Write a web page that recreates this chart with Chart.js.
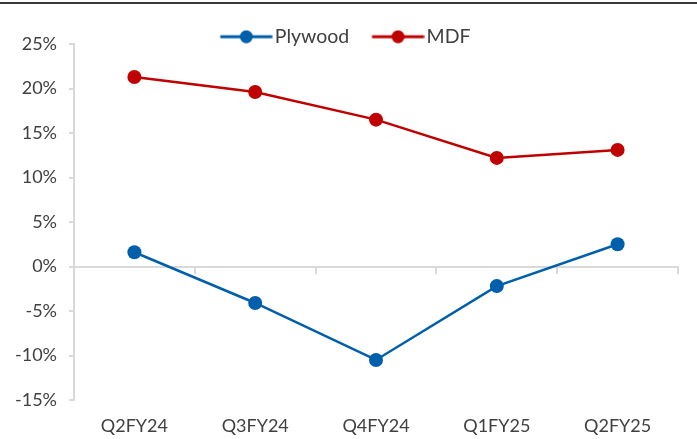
<!DOCTYPE html>
<html lang="en">
<head>
    <meta charset="UTF-8">
    <title>Plywood vs MDF</title>
    <script src="https://cdn.jsdelivr.net/npm/chart.js"></script>
    <style>
        body {
            margin: 0;
            background-color: #ffffff;
        }
        .wrap {
            position: relative;
            width: 697px;
            height: 439px;
        }
        .topline {
            position: absolute;
            left: 0;
            top: 2px;
            width: 697px;
            height: 2px;
            background-color: #3a3a3a;
        }
    </style>
</head>
<body>
    <div class="wrap">
        <div class="topline"></div>
        <canvas id="growthChart" width="697" height="439"></canvas>
    </div>

    <script>
        // data
        const quarters = ['Q2FY24', 'Q3FY24', 'Q4FY24', 'Q1FY25', 'Q2FY25'];
        const plywood = [1.6, -4.1, -10.5, -2.2, 2.5];
        const mdf = [21.3, 19.6, 16.5, 12.2, 13.1];
        const yMin = -15, yMax = 25, yStep = 5;

        const blue = '#005FAA';
        const red = '#C00000';
        const axisGrey = '#d9d9d9';
        const textGrey = '#404040';

        // legend icon: line with dot (left part of the canvas is blank spacing)
        function legendIcon(color) {
            const c = document.createElement('canvas');
            c.width = 73;
            c.height = 14;
            const ctx = c.getContext('2d');
            ctx.strokeStyle = color;
            ctx.lineWidth = 3;
            ctx.beginPath();
            ctx.moveTo(20.5, 7);
            ctx.lineTo(72.5, 7);
            ctx.stroke();
            ctx.fillStyle = color;
            ctx.beginPath();
            ctx.arc(46.5, 7, 6.5, 0, Math.PI * 2);
            ctx.fill();
            return c;
        }
        const icons = [legendIcon(blue), legendIcon(red)];

        // keep the legend box short so the plot starts right under it
        const legendHeight = {
            id: 'legendHeight',
            afterInit(chart) {
                const lg = chart.legend;
                const fit = lg.fit;
                const draw = lg.draw;
                lg.fit = function () {
                    fit.call(this);
                    this.height = 27;
                };
                lg.draw = function () {
                    const b = this.bottom;
                    this.bottom = b + 20;
                    draw.call(this);
                    this.bottom = b;
                };
            }
        };

        Chart.defaults.font.family = 'Lato, "Open Sans", sans-serif';
        Chart.defaults.color = textGrey;

        new Chart(document.getElementById('growthChart').getContext('2d'), {
            type: 'line',
            data: {
                labels: quarters,
                datasets: [{
                    label: 'Plywood',
                    data: plywood,
                    borderColor: blue,
                    backgroundColor: blue,
                    borderWidth: 2.5,
                    pointRadius: 7,
                    pointHoverRadius: 7,
                    pointBorderWidth: 0,
                    tension: 0
                }, {
                    label: 'MDF',
                    data: mdf,
                    borderColor: red,
                    backgroundColor: red,
                    borderWidth: 2.5,
                    pointRadius: 7,
                    pointHoverRadius: 7,
                    pointBorderWidth: 0,
                    tension: 0
                }]
            },
            plugins: [legendHeight],
            options: {
                responsive: false,
                animation: false,
                layout: {
                    padding: { top: 17, right: 19, bottom: 0, left: 0 }
                },
                plugins: {
                    tooltip: { enabled: false },
                    legend: {
                        position: 'top',
                        labels: {
                            usePointStyle: true,
                            pointStyleWidth: 57.5,
                            padding: 10,
                            font: { size: 19.5 },
                            color: textGrey,
                            generateLabels: chart => Chart.defaults.plugins.legend.labels.generateLabels(chart)
                                .map((item, i) => ({ ...item, pointStyle: icons[i] }))
                        }
                    }
                },
                scales: {
                    // zero line with boundary ticks
                    x: {
                        type: 'category',
                        position: { y: 0 },
                        offset: true,
                        border: { display: true, color: axisGrey, width: 2 },
                        grid: {
                            offset: true,
                            drawOnChartArea: false,
                            drawTicks: true,
                            tickLength: 6,
                            color: axisGrey,
                            lineWidth: 2
                        },
                        ticks: { display: false },
                        afterFit: scale => { scale.height = 0; }
                    },
                    // category labels at bottom
                    xLabels: {
                        type: 'category',
                        position: 'bottom',
                        labels: quarters,
                        offset: true,
                        border: { display: false },
                        grid: { display: false },
                        ticks: {
                            padding: 7,
                            font: { size: 18 },
                            color: textGrey,
                            maxRotation: 0
                        },
                        afterFit: scale => { scale.height = 39; }
                    },
                    y: {
                        min: yMin,
                        max: yMax,
                        border: { display: true, color: axisGrey, width: 2 },
                        grid: {
                            drawOnChartArea: false,
                            drawTicks: true,
                            tickLength: 5,
                            color: axisGrey,
                            lineWidth: 2
                        },
                        ticks: {
                            stepSize: yStep,
                            padding: 12,
                            font: { size: 18 },
                            color: textGrey,
                            callback: v => v + '%'
                        },
                        afterFit: scale => { scale.width = 74; }
                    }
                }
            }
        });
    </script>
</body>
</html>
